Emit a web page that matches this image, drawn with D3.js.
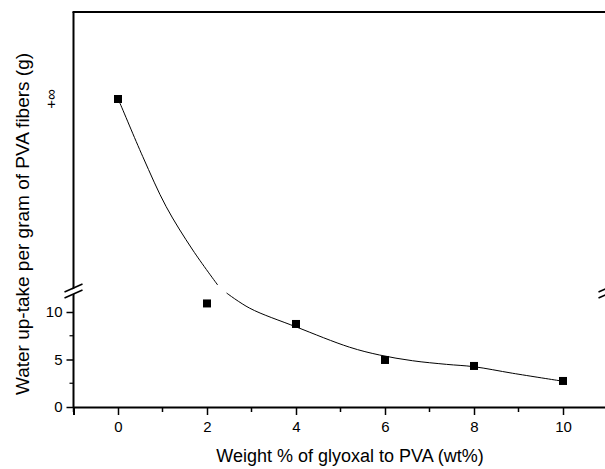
<!DOCTYPE html>
<html lang="en">
<head>
    <meta charset="UTF-8">
    <title>Water up-take vs glyoxal</title>
    <script src="https://d3js.org/d3.v7.min.js"></script>
    <style>
        body { margin: 0; background: #fff; }
        svg { display: block; font-family: "Liberation Sans", Arial, sans-serif; }
    </style>
</head>
<body>
    <svg></svg>
    <script>
        const width = 605, height = 469;

        // measured points (x = 0 is "+infinity")
        const glyoxal = [0, 2, 4, 6, 8, 10];
        const uptake = [Infinity, 10.9, 8.74, 4.95, 4.32, 2.74];

        // fitted curve, upper (broken) part: fraction of the upper panel, 1 = +infinity
        const fitUpperX = [0, 0.03, 0.557, 1.083, 1.68, 2.24];
        const fitUpperF = [1, 0.985, 0.69, 0.421, 0.188, 0.0];
        // fitted curve, lower part in grams
        const fitLowerX = [2.44, 2.96, 4.01, 5.2, 5.88, 6.62, 7.38, 8.0, 8.87, 9.92];
        const fitLowerY = [12.0, 10.4, 8.42, 6.3, 5.47, 4.87, 4.49, 4.24, 3.55, 2.77];

        const xTicks = [0, 2, 4, 6, 8, 10];
        const xMinor = [-1, 1, 3, 5, 7, 9, 11];
        const yTicks = [0, 5, 10];
        const yMinor = [2.5, 7.5];

        const svg = d3.select("svg").attr("width", width).attr("height", height);

        const mLeft = 73.5, mRight = 607.5, mTop = 12, mBottom = 407;
        const breakY = 289;

        const x = d3.scaleLinear().domain([-1, 11]).range([mLeft, mRight]);
        const yLow = d3.scaleLinear().domain([0, 12]).range([mBottom, 293]);
        const yUp = d3.scaleLinear().domain([0, 1]).range([285, 99]);

        const py = v => v === Infinity ? yUp(1) : yLow(v);

        // frame lines
        svg.append("line").attr("x1", mLeft).attr("x2", mLeft).attr("y1", mTop).attr("y2", mBottom)
            .attr("stroke", "#000").attr("stroke-width", 2);
        svg.append("line").attr("x1", mLeft - 1).attr("x2", mRight).attr("y1", mTop).attr("y2", mTop)
            .attr("stroke", "#000").attr("stroke-width", 2);
        svg.append("line").attr("x1", mRight).attr("x2", mRight).attr("y1", mTop).attr("y2", mBottom)
            .attr("stroke", "#000").attr("stroke-width", 2);

        // x axis
        const xAxis = svg.append("g").attr("transform", `translate(0,${mBottom})`)
            .call(d3.axisBottom(x).tickValues(xTicks).tickSize(8).tickPadding(6).tickFormat(d3.format("d")));
        xAxis.attr("font-family", null).attr("font-size", 15);
        xAxis.select(".domain").attr("stroke-width", 2);
        xAxis.selectAll(".tick line").attr("stroke-width", 1.5);
        svg.append("g").attr("transform", `translate(0,${mBottom})`)
            .selectAll("line").data(xMinor).join("line")
            .attr("x1", d => x(d)).attr("x2", d => x(d)).attr("y1", 0).attr("y2", 5)
            .attr("stroke", "#000").attr("stroke-width", 1.5);

        // y axis (lower panel)
        const yAxis = svg.append("g").attr("transform", `translate(${mLeft},0)`)
            .call(d3.axisLeft(yLow).tickValues(yTicks).tickSize(7).tickPadding(4));
        yAxis.attr("font-family", null).attr("font-size", 15);
        yAxis.select(".domain").remove();
        yAxis.selectAll(".tick line").attr("stroke-width", 1.5);
        svg.append("g").selectAll("line").data(yMinor).join("line")
            .attr("x1", mLeft - 4).attr("x2", mLeft).attr("y1", d => yLow(d)).attr("y2", d => yLow(d))
            .attr("stroke", "#000").attr("stroke-width", 1.2);

        // +infinity label
        svg.append("text")
            .attr("transform", `translate(${mLeft - 23},${yUp(1)}) rotate(-90)`)
            .attr("text-anchor", "middle").attr("dy", "0.35em")
            .style("font-size", "15px")
            .text("+\u221e");

        // axis break marks
        function breakMark(cx) {
            const g = svg.append("g").attr("transform", `translate(${cx},${breakY})`);
            g.append("polygon").attr("points", "-9,4 9,-4 9,1 -9,9").attr("fill", "#fff");
            g.append("line").attr("x1", -9).attr("y1", 3).attr("x2", 9).attr("y2", -5)
                .attr("stroke", "#000").attr("stroke-width", 1.5);
            g.append("line").attr("x1", -9).attr("y1", 9).attr("x2", 9).attr("y2", 1)
                .attr("stroke", "#000").attr("stroke-width", 1.5);
        }
        breakMark(mLeft);
        breakMark(mRight);

        // fitted curve in two pieces
        const upperLine = d3.line().x(d => x(d[0])).y(d => yUp(d[1])).curve(d3.curveCatmullRom);
        const lowerLine = d3.line().x(d => x(d[0])).y(d => yLow(d[1])).curve(d3.curveCatmullRom);
        svg.append("path").datum(d3.zip(fitUpperX, fitUpperF)).attr("d", upperLine)
            .attr("fill", "none").attr("stroke", "#000").attr("stroke-width", 1);
        svg.append("path").datum(d3.zip(fitLowerX, fitLowerY)).attr("d", lowerLine)
            .attr("fill", "none").attr("stroke", "#000").attr("stroke-width", 1);

        // square markers
        const s = 8;
        svg.append("g").selectAll("rect").data(d3.zip(glyoxal, uptake)).join("rect")
            .attr("x", d => x(d[0]) - s / 2).attr("y", d => py(d[1]) - s / 2)
            .attr("width", s).attr("height", s).attr("fill", "#000");

        // axis titles
        svg.append("text").attr("x", 350).attr("y", 462).attr("text-anchor", "middle")
            .style("font-size", "18px").text("Weight % of glyoxal to PVA (wt%)");
        svg.append("text").attr("transform", "translate(29,224) rotate(-90)")
            .attr("text-anchor", "middle").style("font-size", "19px")
            .text("Water up-take per gram of PVA fibers (g)");
    </script>
</body>
</html>
